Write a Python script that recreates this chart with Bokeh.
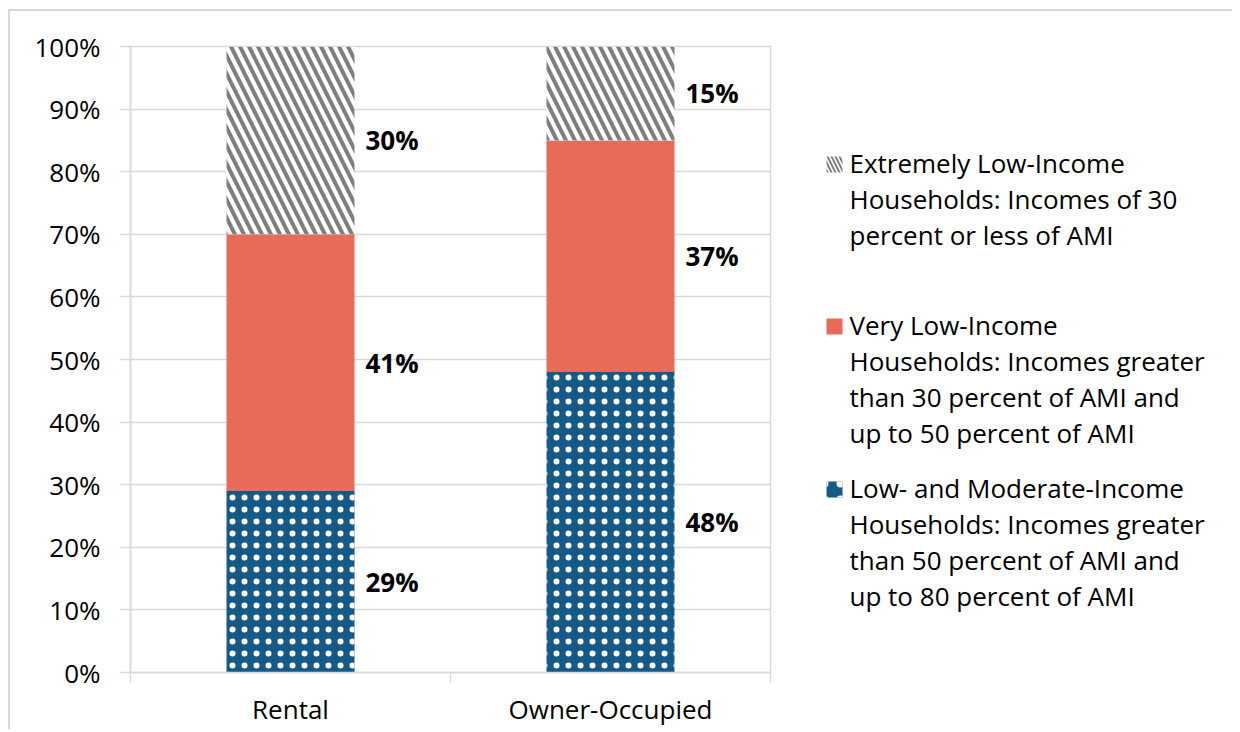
from bokeh.plotting import figure
from bokeh.models import Range1d, FixedTicker, NumeralTickFormatter, ColumnDataSource
from bokeh.layouts import row
from bokeh.embed import file_html
from bokeh.resources import INLINE
from bokeh.core.properties import value

# ---------------- data ----------------
categories = ["Rental", "Owner-Occupied"]
series_names = [
    "Low- and Moderate-Income\nHouseholds: Incomes greater\nthan 50 percent of AMI and\nup to 80 percent of AMI",
    "Very Low-Income\nHouseholds: Incomes greater\nthan 30 percent of AMI and\nup to 50 percent of AMI",
    "Extremely Low-Income\nHouseholds: Incomes of 30\npercent or less of AMI",
]
low_moderate = [0.29, 0.48]
very_low = [0.41, 0.37]
extremely_low = [0.30, 0.15]
y_ticks = [0.0, 0.1, 0.2, 0.3, 0.4, 0.5, 0.6, 0.7, 0.8, 0.9, 1.0]

FONT = "Open Sans"
GRID = "#d9d9d9"
BLUE = "#155a87"
RED = "#e86a58"
GRAY = "#7f7f7f"

series = [low_moderate, very_low, extremely_low]
styles = [
    dict(fill_color=BLUE, hatch_pattern=".", hatch_color="white", hatch_scale=12, hatch_weight=0.2),
    dict(fill_color=RED),
    dict(fill_color="white", hatch_pattern="\\", hatch_color=GRAY, hatch_scale=18, hatch_weight=4),
]

xc = [i + 0.5 for i in range(len(categories))]

p = figure(width=790, height=718, output_backend="svg", toolbar_location=None,
           x_range=Range1d(0, len(categories)), y_range=Range1d(0, 1),
           min_border_left=120, min_border_right=30, min_border_top=35, min_border_bottom=50)
p.background_fill_color = "white"
p.border_fill_color = "white"
p.outline_line_color = GRID
p.outline_line_width = 1.5

bottoms = [0.0] * len(categories)
label_x, label_y, label_t = [], [], []
for vals, st in zip(series, styles):
    tops = [b + v for b, v in zip(bottoms, vals)]
    src = ColumnDataSource(dict(x=xc, bottom=bottoms, top=tops))
    p.vbar(x="x", bottom="bottom", top="top", width=0.4, source=src, line_color=None, **st)
    for i, v in enumerate(vals):
        label_x.append(xc[i] + 0.2)
        label_y.append(bottoms[i] + v / 2)
        label_t.append(f"{round(v * 100)}%")
    bottoms = tops

p.text(x=label_x, y=label_y, text=label_t, x_offset=11, text_baseline="middle", text_align="left",
       text_font=value(FONT), text_font_style="bold", text_font_size="26px", text_color="#000000")

# y axis
p.yaxis.ticker = FixedTicker(ticks=y_ticks)
p.yaxis.formatter = NumeralTickFormatter(format="0%")
p.yaxis.axis_line_color = GRID
p.yaxis.axis_line_width = 1.5
p.yaxis.major_tick_line_color = GRID
p.yaxis.major_tick_line_width = 1.5
p.yaxis.major_tick_out = 10
p.yaxis.major_tick_in = 0
p.yaxis.minor_tick_line_color = None
p.yaxis.major_label_standoff = 20
p.yaxis.major_label_text_font = FONT
p.yaxis.major_label_text_font_size = "26px"
p.yaxis.major_label_text_color = "#000000"

# x axis
p.xaxis.ticker = FixedTicker(ticks=xc, minor_ticks=[float(i) for i in range(len(categories) + 1)])
p.xaxis.major_label_overrides = {x: c for x, c in zip(xc, categories)}
p.xaxis.axis_line_color = GRID
p.xaxis.axis_line_width = 1.5
p.xaxis.major_tick_line_color = None
p.xaxis.major_tick_out = 0
p.xaxis.major_tick_in = 0
p.xaxis.minor_tick_line_color = GRID
p.xaxis.minor_tick_line_width = 1.5
p.xaxis.minor_tick_out = 10
p.xaxis.minor_tick_in = 0
p.xaxis.major_label_standoff = 8
p.xaxis.major_label_text_font = FONT
p.xaxis.major_label_text_font_size = "26px"
p.xaxis.major_label_text_color = "#000000"

p.xgrid.grid_line_color = None
p.ygrid.ticker = FixedTicker(ticks=y_ticks)
p.ygrid.grid_line_color = GRID
p.ygrid.grid_line_width = 1.5

# ---------------- legend panel ----------------
# its frame is aligned with the chart's frame (page y 46..672), so use page-pixel units
leg = figure(width=432, height=718, output_backend="svg", toolbar_location=None,
             x_range=Range1d(0, 432), y_range=Range1d(672, 46),
             min_border_left=0, min_border_right=0, min_border_top=0, min_border_bottom=0)
leg.axis.visible = False
leg.grid.visible = False
leg.outline_line_color = None
leg.border_fill_color = "white"
leg.background_fill_color = "white"

legend_order = [2, 1, 0]
item_y = [164, 326, 489]
for k, idx in enumerate(legend_order):
    st = dict(styles[idx])
    if idx == 0:
        st["hatch_scale"] = 16
    if idx == 2:
        st["hatch_scale"] = 8
        st["hatch_weight"] = 2
    leg.rect(x=[34], y=[item_y[k]], width=16, height=16, line_color=None, **st)
    leg.text(x=[49], y=[item_y[k]], text=[series_names[idx]], text_baseline="top", y_offset=-20,
             text_align="left", text_font=value(FONT), text_font_size="26px",
             text_line_height=1.0, text_color="#000000")

layout = row(p, leg, styles={"border-left": f"2px solid {GRID}", "border-top": f"2px solid {GRID}",
                             "margin-left": "8px", "margin-top": "9px"})

open("out.html", "w").write(file_html(layout, INLINE))
